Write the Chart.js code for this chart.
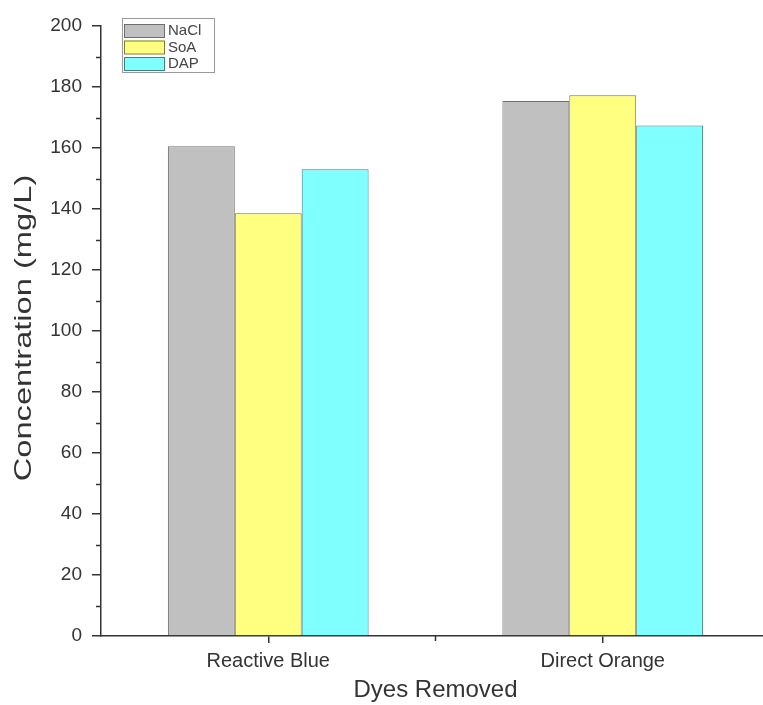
<!DOCTYPE html>
<html>
<head>
<meta charset="utf-8">
<script src="https://cdn.jsdelivr.net/npm/chart.js@4.4.1/dist/chart.umd.min.js"></script>
<style>
  html, body { margin: 0; padding: 0; background: #fff; overflow: hidden; }
  #wrap { width: 763px; height: 705px; overflow: hidden; }
  #box { width: 770px; height: 705px; }
</style>
</head>
<body>
<div id="wrap"><div id="box"><canvas id="chart"></canvas></div></div>
<script>
// datos
const dyes = ['Reactive Blue', 'Direct Orange'];
const seriesNames = ['NaCl', 'SoA', 'DAP'];
const nacl = [160.6, 175.4];
const soa = [138.6, 177.3];
const dap = [153.0, 167.4];
const yTicks = [0, 20, 40, 60, 80, 100, 120, 140, 160, 180, 200];

const fills = ['#c0c0c0', '#ffff80', '#80ffff'];
const edges = ['#6e6e6e', '#7a7a3a', '#3f7f7f'];

// ticks menores, título del eje Y y leyenda dibujados a mano
const extras = {
    id: 'extras',
    afterDraw(chart) {
        const ctx = chart.ctx;
        const y = chart.scales.y;
        const x = chart.scales.x;
        const area = chart.chartArea;
        ctx.save();
        ctx.strokeStyle = '#333';
        ctx.lineWidth = 1.5;
        // ticks menores del eje Y
        for (let v = 10; v < 200; v += 20) {
            const py = Math.round(y.getPixelForValue(v)) + 0.5;
            ctx.beginPath();
            ctx.moveTo(area.left - 5, py);
            ctx.lineTo(area.left, py);
            ctx.stroke();
        }
        // tick entre categorías
        const mid = (x.getPixelForValue(0) + x.getPixelForValue(1)) / 2;
        ctx.beginPath();
        ctx.moveTo(mid, area.bottom);
        ctx.lineTo(mid, area.bottom + 5);
        ctx.stroke();

        // título del eje Y
        ctx.fillStyle = '#333';
        ctx.font = '24px "Liberation Sans", Arial, sans-serif';
        ctx.textAlign = 'center';
        ctx.textBaseline = 'middle';
        ctx.translate(24, 328);
        ctx.rotate(-Math.PI / 2);
        ctx.scale(1.36, 1);
        ctx.fillText('Concentration (mg/L)', 0, 0);
        ctx.restore();

        // leyenda
        ctx.save();
        const lx = 122, ly = 18, lw = 92, lh = 54;
        ctx.strokeStyle = '#999';
        ctx.lineWidth = 1;
        ctx.strokeRect(lx + 0.5, ly + 0.5, lw, lh);
        ctx.font = '15px "Liberation Sans", Arial, sans-serif';
        ctx.textBaseline = 'middle';
        ctx.textAlign = 'left';
        chart.data.datasets.forEach((ds, i) => {
            const cy = ly + 12 + i * 16.5;
            ctx.fillStyle = ds.backgroundColor;
            ctx.fillRect(lx + 2, cy - 6, 40, 13);
            ctx.strokeStyle = ds.borderColor;
            ctx.strokeRect(lx + 2.5, cy - 5.5, 40, 13);
            ctx.fillStyle = '#444';
            ctx.fillText(ds.label, lx + 46, cy + 1);
        });
        ctx.restore();
    }
};

const ctx = document.getElementById('chart').getContext('2d');
new Chart(ctx, {
    type: 'bar',
    data: {
        labels: dyes,
        datasets: [nacl, soa, dap].map((vals, i) => ({
            label: seriesNames[i],
            data: vals,
            backgroundColor: fills[i],
            borderColor: edges[i],
            borderWidth: 1,
            barPercentage: 1,
            categoryPercentage: 0.6
        }))
    },
    options: {
        responsive: true,
        maintainAspectRatio: false,
        animation: false,
        layout: { padding: { top: 26, left: 0, right: 0, bottom: 0 } },
        plugins: {
            legend: { display: false },
            tooltip: { enabled: false }
        },
        scales: {
            x: {
                grid: { offset: false, drawOnChartArea: false, tickLength: 7, color: '#333', lineWidth: 1.5 },
                border: { color: '#333', width: 1.5 },
                ticks: { color: '#333', font: { family: '"Liberation Sans", Arial, sans-serif', size: 20 }, padding: 6 },
                title: {
                    display: true,
                    text: 'Dyes Removed',
                    color: '#333',
                    font: { family: '"Liberation Sans", Arial, sans-serif', size: 24 },
                    padding: { top: 0, bottom: 0 }
                },
                afterFit(scale) { scale.height = 69; }
            },
            y: {
                min: 0,
                max: 200,
                afterBuildTicks(scale) { scale.ticks = yTicks.map(v => ({ value: v })); },
                grid: { drawOnChartArea: false, tickLength: 9, color: '#333', lineWidth: 1.5 },
                border: { color: '#333', width: 1.5 },
                ticks: { color: '#333', font: { family: '"Liberation Sans", Arial, sans-serif', size: 19 }, padding: 10 },
                afterFit(scale) { scale.width = 101; }
            }
        }
    },
    plugins: [extras]
});
</script>
</body>
</html>
